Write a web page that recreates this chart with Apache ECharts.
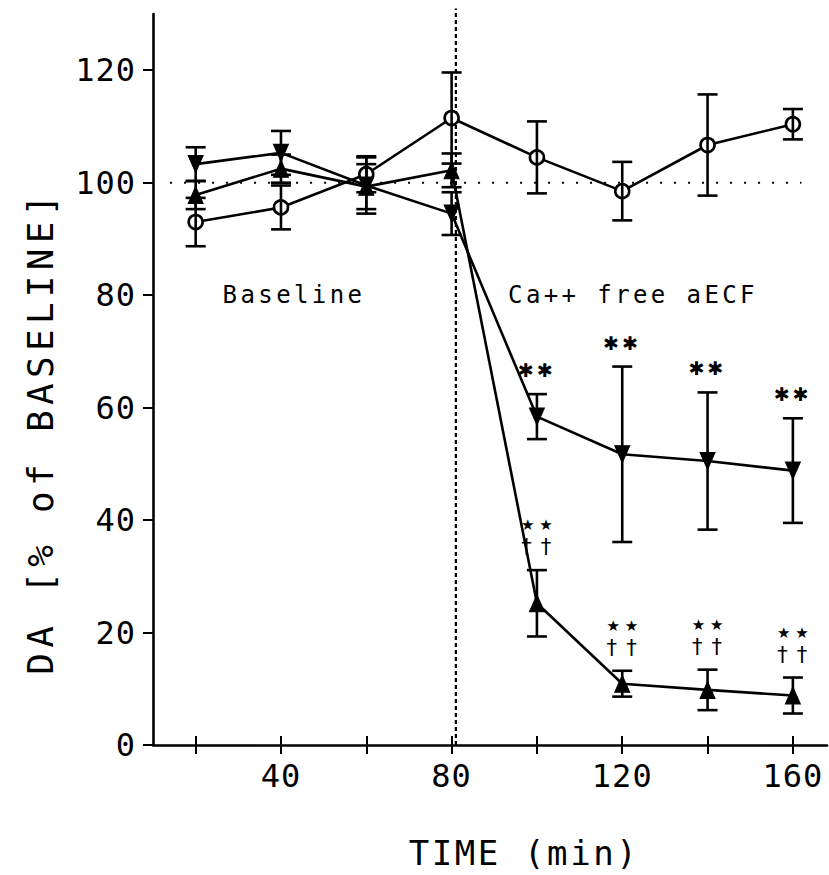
<!DOCTYPE html>
<html>
<head>
<meta charset="utf-8">
<script src="https://cdn.jsdelivr.net/npm/echarts@6/dist/echarts.min.js"></script>
<style>
  html, body { margin: 0; padding: 0; background: #fff; }
  #chart { width: 829px; height: 875px; }
</style>
</head>
<body>
<div id="chart"></div>
<script>
// Sampling times (min)
const timeMin = [20, 40, 60, 80, 100, 120, 140, 160];

// DA, % of baseline: mean and error for each group
const circleMean = [93.0, 95.6, 101.5, 111.5, 104.5, 98.5, 106.7, 110.4];
const circleErr  = [4.3, 3.9, 3.2, 8.1, 6.4, 5.2, 9.0, 2.7];
const downMean   = [103.3, 105.3, 99.5, 94.5, 58.4, 51.7, 50.5, 48.8];
const downErr    = [3.0, 3.9, 5.0, 3.8, 4.0, 15.6, 12.2, 9.3];
const upMean     = [97.8, 102.5, 99.3, 102.2, 25.2, 10.9, 9.8, 8.8];
const upErr      = [2.5, 2.5, 4.0, 3.0, 5.9, 2.3, 3.6, 3.2];

// Significance marks per time point
const SIG_AST = '\u2731\u2731';
const SIG_STAR = '\u2605 \u2605';
const SIG_DAGGER = '\u2020 \u2020';
const downSig     = ['', '', '', '', SIG_AST, SIG_AST, SIG_AST, SIG_AST];
const upSigStar   = ['', '', '', '', SIG_STAR, SIG_STAR, SIG_STAR, SIG_STAR];
const upSigDagger = ['', '', '', '', SIG_DAGGER, SIG_DAGGER, SIG_DAGGER, SIG_DAGGER];

// Axis ticks
const xTickValues  = [20, 40, 60, 80, 100, 120, 140, 160];
const xLabelValues = [40, 80, 120, 160];
const yTickValues  = [0, 20, 40, 60, 80, 100, 120];

// Texts
const xTitle = 'TIME (min)';
const yTitle = 'DA [% of BASELINE]';
const phase1 = 'Baseline';
const phase2 = 'Ca++ free aECF';

// Reference lines
const mediumSwitchMin = 81;
const baselineLevel = 100;
const baselineLineFrom = 14;
const baselineLineTo = 162;

const MONO = '"DejaVu Sans Mono", monospace';
const SANS = '"DejaVu Sans", sans-serif';
const INK = '#000';

// Wide plotter-style letter pitch for the text lines
const letterSpacingPx = {};
letterSpacingPx[yTitle] = 5.3;
letterSpacingPx[xTitle] = 2.6;
letterSpacingPx[phase1] = 3.4;
letterSpacingPx[phase2] = 3.4;
letterSpacingPx[SIG_AST] = 3;
letterSpacingPx[SIG_DAGGER] = 1.2;
const tickLabelSpacingPx = 1;

function errorBarSeries(mean, err) {
  return {
    type: 'custom',
    silent: true,
    animation: false,
    z: 5,
    data: timeMin.map((t, i) => [t, mean[i] - err[i], mean[i] + err[i]]),
    encode: { x: 0, y: [1, 2] },
    renderItem: function (params, api) {
      const lo = api.coord([api.value(0), api.value(1)]);
      const hi = api.coord([api.value(0), api.value(2)]);
      const w = 10;
      const style = { stroke: INK, lineWidth: 2.6 };
      return {
        type: 'group',
        children: [
          { type: 'line', shape: { x1: lo[0], y1: lo[1], x2: hi[0], y2: hi[1] }, style },
          { type: 'line', shape: { x1: lo[0] - w, y1: lo[1], x2: lo[0] + w, y2: lo[1] }, style },
          { type: 'line', shape: { x1: hi[0] - w, y1: hi[1], x2: hi[0] + w, y2: hi[1] }, style }
        ]
      };
    }
  };
}

// Significance text placed above the upper end of an error bar
function sigSeries(mean, err, marks, pxAbove, font, lineHeight) {
  const rows = [];
  timeMin.forEach((t, i) => { if (marks[i]) rows.push([t, mean[i] + err[i], marks[i]]); });
  return {
    type: 'custom',
    silent: true,
    animation: false,
    z: 6,
    data: rows,
    encode: { x: 0, y: 1 },
    renderItem: function (params, api) {
      const p = api.coord([api.value(0), api.value(1)]);
      return {
        type: 'text',
        x: p[0],
        y: p[1] - pxAbove,
        style: {
          text: rows[params.dataIndex][2],
          font: font,
          lineHeight: lineHeight,
          fill: INK,
          align: 'center',
          verticalAlign: 'middle'
        }
      };
    }
  };
}

function lineSeries(mean, symbol, rotate, size, filled) {
  return {
    type: 'line',
    data: timeMin.map((t, i) => [t, mean[i]]),
    symbol: symbol,
    symbolRotate: rotate,
    symbolSize: size,
    showAllSymbol: true,
    z: 3,
    animation: false,
    lineStyle: { color: INK, width: 2.6 },
    itemStyle: filled
      ? { color: INK, borderColor: INK, borderWidth: 1 }
      : { color: '#fff', borderColor: INK, borderWidth: 2.6 }
  };
}

const chart = echarts.init(document.getElementById('chart'), null, { renderer: 'svg' });

chart.setOption({
  backgroundColor: '#fff',
  animation: false,
  grid: { left: 153, right: 2, top: 14, bottom: 130, containLabel: false },
  xAxis: [{
    type: 'value',
    min: 10,
    max: 168,
    axisLine: { show: true, lineStyle: { color: INK, width: 2.6 } },
    axisTick: { show: true, customValues: xTickValues, length: 9, lineStyle: { color: INK, width: 2 } },
    axisLabel: { customValues: xLabelValues, margin: 15, color: INK, fontFamily: MONO, fontSize: 32 },
    splitLine: { show: false }
  }, {
    // inner half of the crossing tick marks
    type: 'value',
    min: 10,
    max: 168,
    position: 'bottom',
    axisLine: { show: false },
    axisTick: { show: true, inside: true, customValues: xTickValues, length: 9, lineStyle: { color: INK, width: 2 } },
    axisLabel: { show: false },
    splitLine: { show: false }
  }],
  yAxis: {
    type: 'value',
    min: 0,
    max: 130,
    axisLine: { show: true, lineStyle: { color: INK, width: 2.6 } },
    axisTick: { show: true, customValues: yTickValues, length: 10, lineStyle: { color: INK, width: 2 } },
    axisLabel: { customValues: yTickValues, margin: 17, color: INK, fontFamily: MONO, fontSize: 32 },
    splitLine: { show: false }
  },
  graphic: [
    {
      type: 'text', x: 294, y: 295,
      style: { text: phase1, font: '24px ' + MONO, fill: INK, align: 'center', verticalAlign: 'middle' }
    },
    {
      type: 'text', x: 633, y: 295,
      style: { text: phase2, font: '24px ' + MONO, fill: INK, align: 'center', verticalAlign: 'middle' }
    },
    {
      type: 'text', x: 524, y: 853,
      style: { text: xTitle, font: '34px ' + MONO, fill: INK, align: 'center', verticalAlign: 'middle' }
    },
    {
      type: 'text', x: 40, y: 432, rotation: Math.PI / 2,
      style: { text: yTitle, font: '36px ' + MONO, fill: INK, align: 'center', verticalAlign: 'middle' }
    }
  ],
  series: [
    {
      // dotted 100 % level
      type: 'line',
      data: [[baselineLineFrom, baselineLevel], [baselineLineTo, baselineLevel]],
      symbol: 'none',
      z: 1,
      lineStyle: { color: INK, width: 2, type: [2, 12] }
    },
    {
      // medium change
      type: 'line',
      data: [[mediumSwitchMin, 0], [mediumSwitchMin, 131]],
      symbol: 'none',
      clip: false,
      z: 1,
      lineStyle: { color: INK, width: 2.2, type: [4, 3] }
    },
    lineSeries(circleMean, 'circle', 0, 14, false),
    lineSeries(downMean, 'triangle', 180, [15, 17], true),
    lineSeries(upMean, 'triangle', 0, [15, 17], true),
    errorBarSeries(circleMean, circleErr),
    errorBarSeries(downMean, downErr),
    errorBarSeries(upMean, upErr),
    sigSeries(downMean, downErr, downSig, 24, '19px ' + SANS, 18),
    sigSeries(upMean, upErr, upSigDagger, 23, '21px ' + SANS, 18),
    sigSeries(upMean, upErr, upSigStar, 45, '15px ' + SANS, 14)
  ]
});

function applyLetterSpacing() {
  document.querySelectorAll('#chart svg text').forEach(function (el) {
    const t = el.textContent;
    if (letterSpacingPx[t] != null) {
      el.style.letterSpacing = letterSpacingPx[t] + 'px';
    } else if (/^\d+$/.test(t)) {
      el.style.letterSpacing = tickLabelSpacingPx + 'px';
    }
  });
}
chart.on('finished', applyLetterSpacing);
applyLetterSpacing();
</script>
</body>
</html>
